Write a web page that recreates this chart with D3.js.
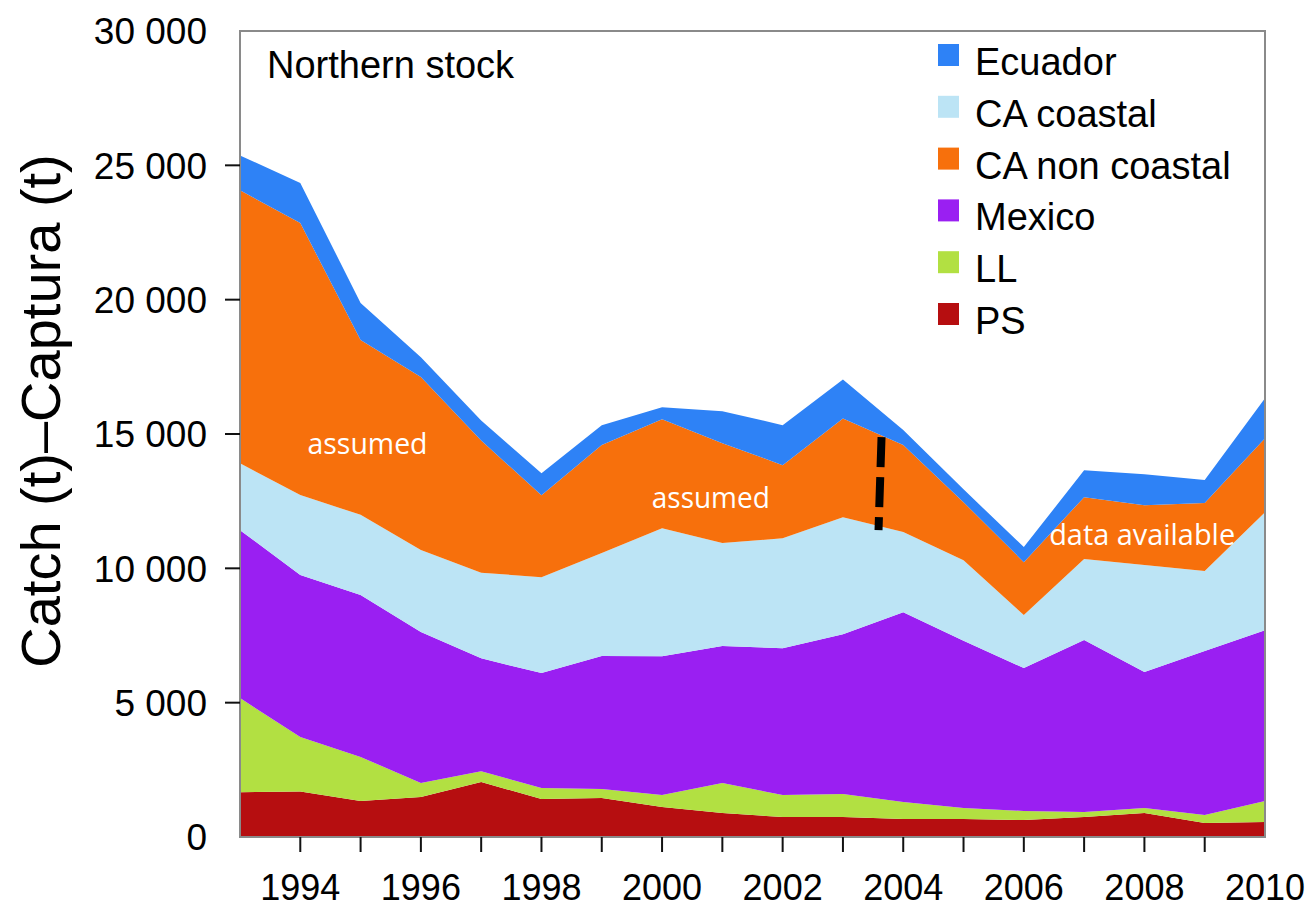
<!DOCTYPE html>
<html>
	<head>
		<title>Northern stock catch</title>

		<style>
			body
			{
				margin: 0;
				background: #ffffff;
			}

			svg
			{
				width: 1313px;
				height: 911px;
				display: block;
			}

			.frame
			{
				fill: none;
				stroke: #8a8a8a;
				stroke-width: 2px;
			}

			.tick
			{
				stroke: #111111;
				stroke-width: 2px;
			}

			.yText, .xText
			{
				font-family: "Liberation Sans", Arial, sans-serif;
				fill: #000000;
			}

			.yText
			{
				font-size: 37px;
				text-anchor: end;
			}

			.xText
			{
				font-size: 36px;
				text-anchor: middle;
			}

			.yTitle
			{
				font: 56px "Liberation Sans", Arial, sans-serif;
				text-anchor: middle;
			}

			.panelText, .legendText
			{
				font: 38px "Liberation Sans", Arial, sans-serif;
			}

			.note
			{
				font-family: "Open Sans", sans-serif;
				font-size: 30px;
				fill: #ffffff;
			}

			.dash
			{
				stroke: #000000;
				stroke-width: 8px;
				stroke-dasharray: 30, 10;
			}
		</style>

		<script src="https://cdnjs.cloudflare.com/ajax/libs/d3/7.8.5/d3.min.js"></script>
	</head>

	<body>
		<svg></svg>

		<script>
			// catch per fleet, tonnes
			var years = [1993, 1994, 1995, 1996, 1997, 1998, 1999, 2000, 2001, 2002, 2003, 2004, 2005, 2006, 2007, 2008, 2009, 2010];
			var ps = [1670, 1690, 1340, 1490, 2050, 1410, 1450, 1120, 890, 740, 740, 670, 670, 630, 740, 890, 520, 560];
			var ll = [3500, 2030, 1640, 520, 400, 410, 340, 440, 1120, 820, 860, 630, 410, 340, 190, 190, 300, 780];
			var mexico = [6250, 6030, 6030, 5620, 4200, 4280, 4950, 5170, 5100, 5470, 5950, 7070, 6220, 5320, 6400, 5060, 6100, 6360];
			var caCoastal = [2490, 2980, 2980, 3050, 3190, 3570, 3830, 4760, 3830, 4090, 4350, 2980, 3000, 1970, 3020, 3980, 2980, 4390];
			var caNonCoastal = [10160, 10120, 6510, 6440, 4920, 3050, 4020, 4060, 3720, 2720, 3680, 3240, 2160, 1970, 2300, 2230, 2530, 2750];
			var ecuador = [1300, 1490, 1380, 740, 740, 820, 740, 450, 1190, 1490, 1450, 560, 480, 560, 1000, 1150, 860, 1490];

			var yTicks = [0, 5000, 10000, 15000, 20000, 25000, 30000];
			var xTickYears = [1994, 1995, 1996, 1997, 1998, 1999, 2000, 2001, 2002, 2003, 2004, 2005, 2006, 2007, 2008, 2009];
			var xLabelYears = [1994, 1996, 1998, 2000, 2002, 2004, 2006, 2008, 2010];

			var legendNames = ["Ecuador", "CA coastal", "CA non coastal", "Mexico", "LL", "PS"];
			var stackKeys = ["PS", "LL", "Mexico", "CA coastal", "CA non coastal", "Ecuador"];
			var colours = {
				"Ecuador": "#2e82f6",
				"CA coastal": "#bce4f5",
				"CA non coastal": "#f7700c",
				"Mexico": "#9a1ff2",
				"LL": "#b2e042",
				"PS": "#b60e10"
			};

			var notes = [
				{ text: "assumed", year: 1994.12, value: 14250, width: 120 },
				{ text: "assumed", year: 1999.83, value: 12250, width: 118 },
				{ text: "data available", year: 2006.42, value: 10880, width: 186 }
			];
			var dashLine = { year1: 2003.64, value1: 14880, year2: 2003.59, value2: 11420 };

			var rows = years.map(function(y, i)
			{
				return {
					year: y,
					"PS": ps[i],
					"LL": ll[i],
					"Mexico": mexico[i],
					"CA coastal": caCoastal[i],
					"CA non coastal": caNonCoastal[i],
					"Ecuador": ecuador[i]
				};
			});

			var x = d3.scaleLinear().domain([1993, 2010]).range([240, 1265]);
			var y = d3.scaleLinear().domain([0, 30000]).range([837, 31]);

			var svg = d3.select("svg");

			var series = d3.stack().keys(stackKeys)(rows);

			var area = d3.area()
				.x(function(d) { return x(d.data.year); })
				.y0(function(d) { return y(d[0]); })
				.y1(function(d) { return y(d[1]); });

			svg.selectAll("path.layer")
				.data(series)
				.enter()
				.append("path")
				.attr("class", "layer")
				.attr("fill", function(d) { return colours[d.key]; })
				.attr("d", area);

			svg.append("rect")
				.attr("class", "frame")
				.attr("x", x(1993))
				.attr("y", y(30000))
				.attr("width", x(2010) - x(1993))
				.attr("height", y(0) - y(30000));

			// y axis
			var fmt = d3.formatLocale({ decimal: ".", thousands: " ", grouping: [3], currency: ["", ""] }).format(",");

			svg.selectAll("line.yTick")
				.data(yTicks.filter(function(d) { return d > 0 && d < 30000; }))
				.enter()
				.append("line")
				.attr("class", "tick yTick")
				.attr("x1", x(1993) - 15)
				.attr("x2", x(1993))
				.attr("y1", function(d) { return y(d); })
				.attr("y2", function(d) { return y(d); });

			svg.selectAll("text.yText")
				.data(yTicks)
				.enter()
				.append("text")
				.attr("class", "yText")
				.attr("x", 207)
				.attr("y", function(d) { return y(d); })
				.attr("dy", "0.36em")
				.text(function(d) { return fmt(d); });

			svg.append("text")
				.attr("class", "yTitle")
				.attr("transform", "translate(60," + 411 + ") rotate(-90)")
				.text("Catch (t)–Captura (t)");

			// x axis
			svg.selectAll("line.xTick")
				.data(xTickYears)
				.enter()
				.append("line")
				.attr("class", "tick xTick")
				.attr("x1", function(d) { return x(d); })
				.attr("x2", function(d) { return x(d); })
				.attr("y1", y(0))
				.attr("y2", y(0) + 15);

			svg.selectAll("text.xText")
				.data(xLabelYears)
				.enter()
				.append("text")
				.attr("class", "xText")
				.attr("x", function(d) { return x(d); })
				.attr("y", 900)
				.text(function(d) { return d; });

			svg.append("text")
				.attr("class", "panelText")
				.attr("x", 267)
				.attr("y", 78)
				.text("Northern stock");

			// legend
			var legend = svg.selectAll("g.legendItem")
				.data(legendNames)
				.enter()
				.append("g")
				.attr("class", "legendItem")
				.attr("transform", function(d, i) { return "translate(938," + (75 + i * 51.8) + ")"; });

			legend.append("rect")
				.attr("x", 0)
				.attr("y", -31)
				.attr("width", 21)
				.attr("height", 22)
				.attr("fill", function(d) { return colours[d]; });

			legend.append("text")
				.attr("class", "legendText")
				.attr("x", 37)
				.attr("y", 0)
				.text(function(d) { return d; });

			// annotations
			svg.selectAll("text.note")
				.data(notes)
				.enter()
				.append("text")
				.attr("class", "note")
				.attr("x", function(d) { return x(d.year); })
				.attr("y", function(d) { return y(d.value); })
				.attr("textLength", function(d) { return d.width; })
				.attr("lengthAdjust", "spacingAndGlyphs")
				.text(function(d) { return d.text; });

			svg.append("line")
				.attr("class", "dash")
				.attr("x1", x(dashLine.year1))
				.attr("y1", y(dashLine.value1))
				.attr("x2", x(dashLine.year2))
				.attr("y2", y(dashLine.value2));
		</script>
	</body>
</html>
